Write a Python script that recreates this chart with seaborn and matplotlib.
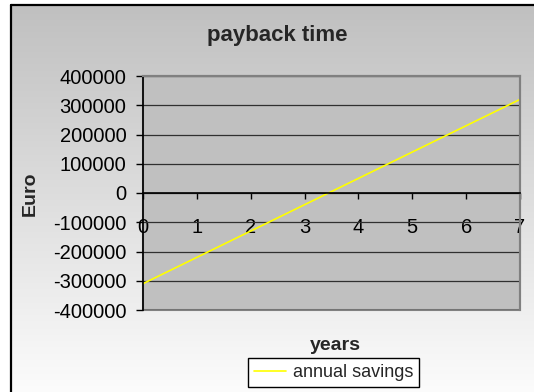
import numpy as np
import pandas as pd
import matplotlib
matplotlib.use("Agg")
import matplotlib.pyplot as plt
from matplotlib.lines import Line2D
from matplotlib.colors import LinearSegmentedColormap
import seaborn as sns

years = [0, 1, 2, 3, 4, 5, 6, 7]
annual_savings = [-310000, -220000, -130000, -40000, 50000, 140000, 230000, 320000]
y_ticks = [-400000, -300000, -200000, -100000, 0, 100000, 200000, 300000, 400000]
series_name = "annual savings"

sns.set_style("white")
plt.rcParams['font.family'] = ['Liberation Sans', 'DejaVu Sans']

W, H = 534, 392
fig = plt.figure(figsize=(W / 100, H / 100), dpi=100)
fig.patch.set_facecolor("white")
fig.patch.set_edgecolor("none")
fig.patch.set_linewidth(0)

# gradient background of the chart area
bg = fig.add_axes([12 / W, 0, 1 - 12 / W, 1 - 6 / H], zorder=-10)
grad = np.linspace(0, 1, 256).reshape(-1, 1)
cmap = LinearSegmentedColormap.from_list("g", ["#c0c0c0", "#fdfdfd"])
bg.imshow(grad, aspect="auto", cmap=cmap, extent=[-0.05, 1.05, -0.02, 1.0],
          origin="upper", interpolation="nearest")
bg.set_xlim(0, 1)
bg.set_ylim(0, 1)
bg.set_axis_off()

# border lines (left & top)
fig.add_artist(Line2D([11 / W, 11 / W], [0, 1 - 5 / H], transform=fig.transFigure, color="black", lw=1.6))
fig.add_artist(Line2D([11 / W, 1.01], [1 - 5 / H, 1 - 5 / H], transform=fig.transFigure, color="black", lw=1.6))

left, right, top, bottom = 143, 520, 76, 310
ax = fig.add_axes([left / W, 1 - bottom / H, (right - left) / W, (bottom - top) / H])
ax.set_facecolor("#c0c0c0")
ax.patch.set_edgecolor("#808080")
ax.patch.set_linewidth(1.5)

df = pd.DataFrame({"years": years, "Euro": annual_savings, "series": series_name})
sns.lineplot(data=df, x="years", y="Euro", color="#ffff00", lw=1.2, ax=ax, label=series_name, legend=False)

ax.set_xlim(0, 7)
ax.set_ylim(-400000, 400000)
ax.set_yticks(y_ticks)
ax.set_yticklabels([str(v) for v in y_ticks])
ax.set_xticks(years)
ax.set_xticklabels([str(v) for v in years])
ax.set_xlabel("")
ax.set_ylabel("")

ax.set_axisbelow(True)
ax.yaxis.grid(True, color="#303030", lw=0.9)
ax.xaxis.grid(False)

ax.spines["left"].set_color("black")
ax.spines["left"].set_linewidth(1.2)
ax.spines["top"].set_color("#808080")
ax.spines["right"].set_color("#808080")
ax.spines["top"].set_linewidth(1.5)
ax.spines["right"].set_linewidth(1.5)
ax.spines["bottom"].set_position(("data", 0))
ax.spines["bottom"].set_color("black")
ax.spines["bottom"].set_linewidth(1.2)

ax.tick_params(axis="y", length=5, width=1, color="black", pad=7, labelsize=14.5, left=True, labelcolor="black")
ax.tick_params(axis="x", length=4, width=1, color="black", direction="out", pad=14, labelsize=14.5, bottom=True, labelcolor="black")

fig.text(277 / W, 1 - 36 / H, "payback time", ha="center", va="center", fontsize=16, fontweight="bold")
fig.text(30 / W, 1 - 194 / H, "Euro", ha="center", va="center", rotation=90, fontsize=14, fontweight="bold")
fig.text(335 / W, 1 - 345 / H, "years", ha="center", va="center", fontsize=14, fontweight="bold")

handles = [Line2D([], [], color="#ffff00", lw=1.2)]
leg = fig.legend(handles, [series_name], loc="center", bbox_to_anchor=(333.5 / W, 1 - 372.5 / H),
                 frameon=True, fancybox=False, edgecolor="black", facecolor="white", framealpha=1,
                 fontsize=13, handlelength=1.8, handletextpad=0.35, borderpad=0.35)
leg.get_frame().set_linewidth(1.0)

fig.savefig("out.png", dpi=100)
